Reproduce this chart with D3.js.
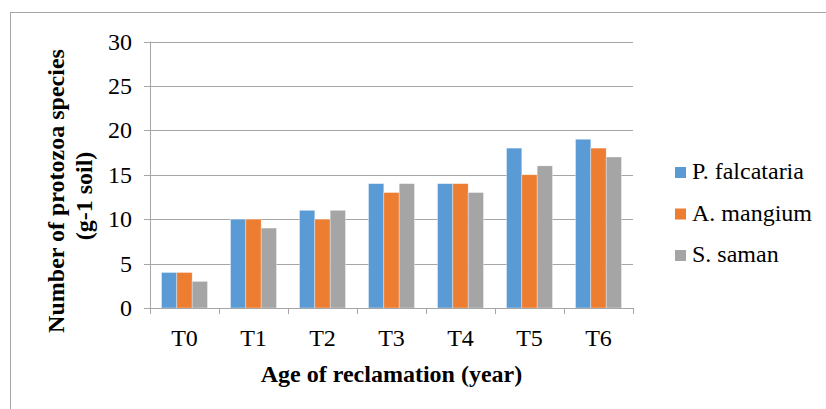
<!DOCTYPE html>
<html>
<head>
<meta charset="utf-8">
<script src="https://cdn.jsdelivr.net/npm/d3@7/dist/d3.min.js"></script>
</head>
<body style="margin:0">
<svg id="chart" width="826" height="409"></svg>
<script>
// Reclamation age classes and species richness per tree stand
const categories = ["T0", "T1", "T2", "T3", "T4", "T5", "T6"];
const seriesNames = ["P. falcataria", "A. mangium", "S. saman"];
const falcataria = [4, 10, 11, 14, 14, 18, 19];
const mangium    = [4, 10, 10, 13, 14, 15, 18];
const saman      = [3, 9, 11, 14, 13, 16, 17];
const yTicks = [0, 5, 10, 15, 20, 25, 30];
const colors = ["#5B9BD5", "#ED7D31", "#A5A5A5"];

const seriesValues = [falcataria, mangium, saman];
const FONT = "'Liberation Serif', monospace";
const FS = 24;

const svg = d3.select("#chart");
const gridColor = "#A6A6A6";

// Outer chart frame
svg.append("rect")
  .attr("x", 10.5).attr("y", 12.5)
  .attr("width", 830).attr("height", 420)
  .attr("fill", "none").attr("stroke", "#A6A6A6").attr("stroke-width", 1);

const plot = { left: 150, right: 633, top: 41.5, bottom: 308 };

const x = d3.scaleBand().domain(categories).range([plot.left, plot.right]).paddingInner(0).paddingOuter(0);
const xInner = d3.scaleBand().domain(d3.range(seriesNames.length))
  .range([0, x.bandwidth()]).paddingInner(0).paddingOuter(0.75);
const y = d3.scaleLinear().domain([0, 30]).range([plot.bottom, plot.top]);

// Horizontal gridlines
const yAxis = d3.axisLeft(y).tickValues(yTicks).tickSize(-(plot.right - plot.left)).tickFormat("");
const gy = svg.append("g").attr("transform", `translate(${plot.left},0)`).call(yAxis);
gy.select(".domain").remove();
gy.selectAll(".tick line").attr("stroke", gridColor).attr("x1", -6).attr("shape-rendering", "crispEdges");

// Y tick labels
svg.append("g").selectAll("text")
  .data(yTicks)
  .join("text")
  .attr("x", 132)
  .attr("y", d => y(d) + 8)
  .attr("text-anchor", "end")
  .attr("font-family", FONT)
  .attr("font-size", FS)
  .text(d => d);

// Bars
const groups = svg.append("g").selectAll("g")
  .data(categories)
  .join("g")
  .attr("transform", d => `translate(${x(d)},0)`);

groups.selectAll("rect")
  .data((c, i) => seriesValues.map((vals, s) => ({ s, v: vals[i] })))
  .join("rect")
  .attr("x", d => xInner(d.s))
  .attr("width", xInner.bandwidth())
  .attr("y", d => y(d.v))
  .attr("height", d => y(0) - y(d.v))
  .attr("fill", d => colors[d.s])
  .attr("stroke", "rgba(255,255,255,0.6)")
  .attr("stroke-width", 0.6);

// Vertical axis line
svg.append("line")
  .attr("x1", plot.left + 0.5).attr("x2", plot.left + 0.5)
  .attr("y1", plot.top).attr("y2", plot.bottom)
  .attr("stroke", gridColor);

// Category axis with tick marks at band edges
const gx = svg.append("g").attr("transform", `translate(0,${plot.bottom})`);
gx.append("line")
  .attr("x1", plot.left).attr("x2", plot.right)
  .attr("y1", 0.5).attr("y2", 0.5)
  .attr("stroke", gridColor);
const edges = categories.map(c => x(c)).concat([plot.right]);
gx.selectAll("line.tk")
  .data(edges)
  .join("line")
  .attr("class", "tk")
  .attr("x1", d => Math.round(d) + 0.5).attr("x2", d => Math.round(d) + 0.5)
  .attr("y1", 0).attr("y2", 6)
  .attr("stroke", gridColor);
gx.selectAll("text")
  .data(categories)
  .join("text")
  .attr("x", d => x(d) + x.bandwidth() / 2)
  .attr("y", 37.5)
  .attr("text-anchor", "middle")
  .attr("font-family", FONT)
  .attr("font-size", FS)
  .text(d => d);

// Axis titles
svg.append("text")
  .attr("x", (plot.left + plot.right) / 2)
  .attr("y", 382)
  .attr("text-anchor", "middle")
  .attr("font-family", FONT)
  .attr("font-size", FS)
  .attr("font-weight", "bold")
  .text("Age of reclamation (year)");

const yTitle = svg.append("text")
  .attr("transform", "translate(0,191) rotate(-90)")
  .attr("text-anchor", "middle")
  .attr("font-family", FONT)
  .attr("font-size", FS)
  .attr("font-weight", "bold");
yTitle.append("tspan").attr("x", 0).attr("y", 64).text("Number of protozoa species");
yTitle.append("tspan").attr("x", -5).attr("y", 92).text("(g-1 soil)");

// Legend
const legend = svg.append("g").selectAll("g")
  .data(seriesNames)
  .join("g")
  .attr("transform", (d, i) => `translate(675,${179 + i * 41.5})`);
legend.append("rect")
  .attr("x", 0).attr("y", -12)
  .attr("width", 11).attr("height", 11)
  .attr("fill", (d, i) => colors[i]);
legend.append("text")
  .attr("x", 17).attr("y", 0)
  .attr("font-family", FONT)
  .attr("font-size", FS)
  .text(d => d);
</script>
</body>
</html>
